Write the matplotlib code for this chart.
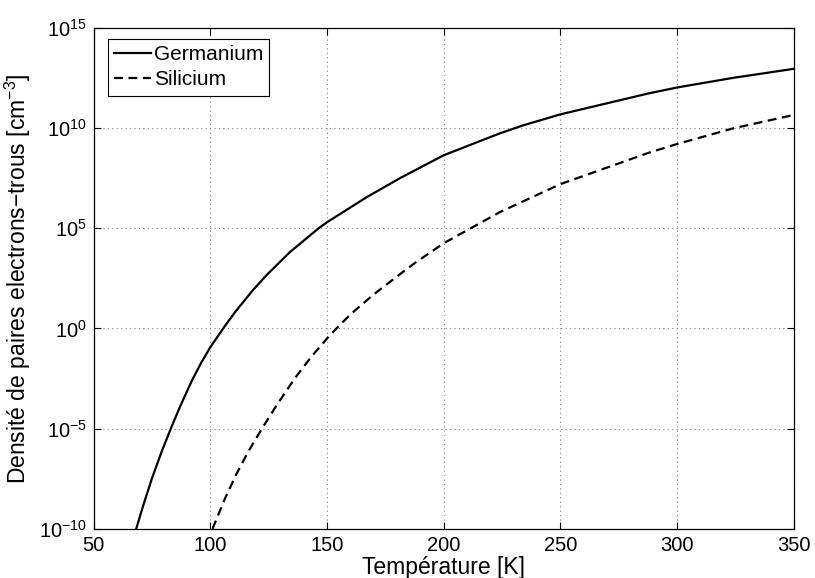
import numpy as np
import matplotlib
matplotlib.use("Agg")
import matplotlib.pyplot as plt
from matplotlib.ticker import FixedLocator, LogFormatterSciNotation, NullLocator

plt.rcParams['font.family'] = ['Liberation Sans', 'DejaVu Sans']
plt.rcParams['mathtext.fontset'] = 'custom'
plt.rcParams['mathtext.rm'] = 'Liberation Sans'
plt.rcParams['mathtext.it'] = 'Liberation Sans:italic'
plt.rcParams['mathtext.default'] = 'regular'

# temperatures [K] and log10 of intrinsic density
T_ge = [68.2, 71.3, 74.9, 79.1, 83.1, 87.0, 92.0, 96.2, 100.0, 106.2, 111.0,
        118.3, 124.0, 134.0, 146.4, 150.0, 167.0, 181.3, 200.0, 224.0, 234.0,
        250.0, 288.0, 300.0, 324.0, 350.0]
logn_ge = [-10.0, -8.8, -7.5, -6.15, -4.98, -3.9, -2.62, -1.68, -0.93, 0.12, 0.88,
           1.92, 2.65, 3.8, 5.0, 5.3, 6.55, 7.5, 8.64, 9.73, 10.13,
           10.68, 11.73, 12.02, 12.5, 12.95]

T_si = [100.9, 106.0, 111.2, 116.2, 122.6, 128.3, 136.1, 143.2, 150.0, 153.2,
        160.0, 169.8, 183.4, 188.3, 200.0, 224.0, 250.0, 288.0, 300.0, 324.0, 350.0]
logn_si = [-10.0, -8.55, -7.25, -6.15, -4.9, -3.85, -2.5, -1.42, -0.5, -0.1,
           0.7, 1.68, 2.9, 3.32, 4.25, 5.8, 7.2, 8.77, 9.2, 9.98, 10.65]

y_ticks = [1e-10, 1e-5, 1e0, 1e5, 1e10, 1e15]
x_ticks = [50, 100, 150, 200, 250, 300, 350]

fig = plt.figure(figsize=(8.15, 5.78), dpi=100)
ax = fig.add_axes([0.115, 0.085, 0.859, 0.867])

n_ge = np.power(10.0, logn_ge)
n_si = np.power(10.0, logn_si)

ax.semilogy(T_ge, n_ge, color='k', linewidth=1.6, label='Germanium')
ax.semilogy(T_si, n_si, color='k', linewidth=1.6, dashes=(4, 2.5), label='Silicium')

ax.set_xlim(50, 350)
ax.set_ylim(1e-10, 1e15)
ax.xaxis.set_major_locator(FixedLocator(x_ticks))
ax.yaxis.set_major_locator(FixedLocator(y_ticks))
ax.yaxis.set_major_formatter(LogFormatterSciNotation())
ax.yaxis.set_minor_locator(NullLocator())

ax.grid(True, color='#808080', linestyle=(0, (1, 3)), linewidth=0.8)
ax.tick_params(direction='in', top=True, right=True, labelsize=14.5,
               length=5, width=0.8, pad=5)
for s in ax.spines.values():
    s.set_linewidth(0.9)

ax.set_xlabel('Température [K]', fontsize=16.5, labelpad=1)
ax.set_ylabel('Densité de paires electrons−trous [cm$^{-3}$]', fontsize=16.5, labelpad=4)

leg = ax.legend(loc='upper left', bbox_to_anchor=(0.02, 0.978), borderaxespad=0,
                fontsize=15, handlelength=1.8, handletextpad=0.1,
                labelspacing=0.3, borderpad=0.3, fancybox=False, framealpha=1)
leg.get_frame().set_edgecolor('k')
leg.get_frame().set_linewidth(0.8)

fig.savefig('out.png', dpi=100)
